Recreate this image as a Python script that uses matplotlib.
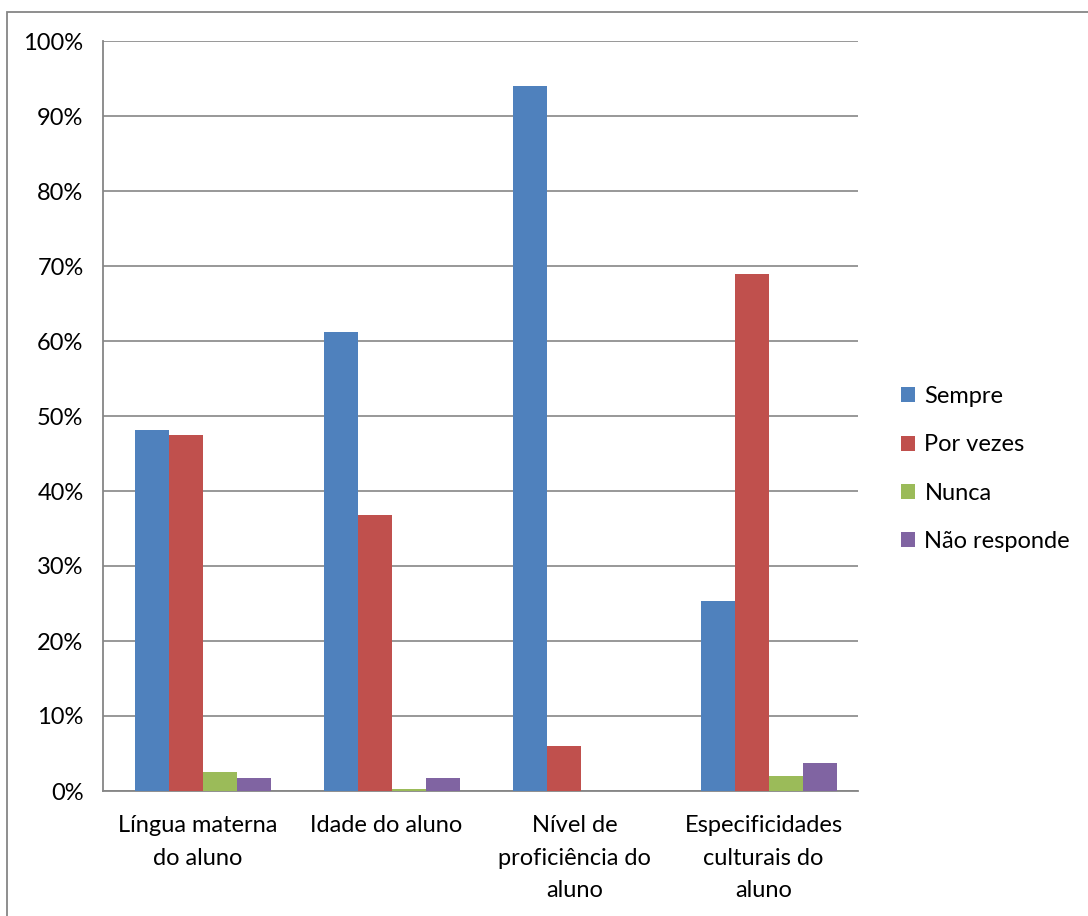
import numpy as np
import matplotlib.pyplot as plt
from matplotlib.patches import Rectangle

plt.rcParams['font.family'] = ['Lato', 'DejaVu Sans']

categories = ["Língua materna\ndo aluno", "Idade do aluno",
              "Nível de\nproficiência do\naluno", "Especificidades\nculturais do\naluno"]
series = ["Sempre", "Por vezes", "Nunca", "Não responde"]
sempre = [48.2, 61.2, 94.0, 25.4]
por_vezes = [47.5, 36.8, 6.0, 68.9]
nunca = [2.5, 0.3, 0.0, 2.0]
nao_responde = [1.7, 1.7, 0.0, 3.7]
colors = ["#4F81BD", "#C0504D", "#9BBB59", "#8064A2"]

fig = plt.figure(figsize=(10.88, 9.16), dpi=100)
W, H = 1088, 916
# outer chart frame
fig.patches.append(Rectangle((7 / W, -0.1), 1.2, (916 - 12) / H + 0.1,
                             transform=fig.transFigure, fill=False,
                             edgecolor="#868686", linewidth=1.3))

ax = fig.add_axes([103 / W, 1 - 791 / H, (858 - 103) / W, (791 - 41) / H])

x = np.arange(len(categories))
bw = 0.18
data = [sempre, por_vezes, nunca, nao_responde]
for i, (name, vals) in enumerate(zip(series, data)):
    ax.bar(x + (i - 1.5) * bw + 0.03, vals, bw, color=colors[i], label=name, zorder=3)

ax.set_xlim(-0.5, 3.5)
ax.set_ylim(0, 100)
ax.set_yticks(np.arange(0, 101, 10))
ax.set_yticklabels([f"{v}%" for v in range(0, 101, 10)])
ax.set_xticks(x)
ax.set_xticklabels(categories, linespacing=1.7)
ax.tick_params(axis='both', length=0, labelsize=17, colors="black")
ax.tick_params(axis='y', pad=14)
ax.tick_params(axis='x', pad=17)
ax.yaxis.grid(True, color="#868686", linewidth=1.2, zorder=0)
for s in ["top", "right"]:
    ax.spines[s].set_visible(False)
for s in ["left", "bottom"]:
    ax.spines[s].set_color("#868686")
    ax.spines[s].set_linewidth(1.3)

leg = fig.legend(loc="center left", bbox_to_anchor=(889 / W, 1 - 469 / H),
                 frameon=False, fontsize=17, handlelength=0.6, handleheight=0.6,
                 handletextpad=0.4, labelspacing=1.15, borderpad=0)

fig.savefig("out.png", dpi=100)
